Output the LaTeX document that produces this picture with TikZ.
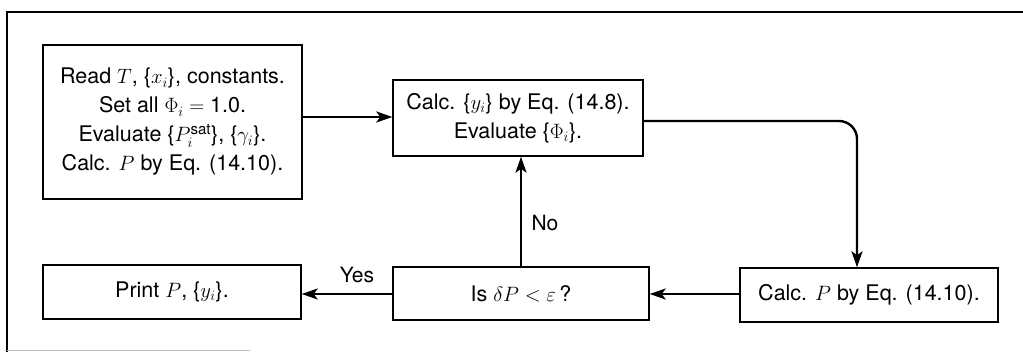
\documentclass[tikz,border=0pt]{standalone}
\usepackage{amsmath}
\usepackage{fontspec}
\setmainfont{TeX Gyre Heros}
\usetikzlibrary{arrows.meta}
\tikzset{
  box/.style={draw=black, line width=1.4pt, align=center, inner sep=0pt,
    font=\fontsize{21.5}{29}\selectfont},
  flow/.style={line width=2.4pt, -{Stealth[length=16pt,width=11pt,inset=4pt]}},
  lbl/.style={font=\fontsize{21}{24}\selectfont, inner sep=0pt}
}
\begin{document}
\begin{tikzpicture}[x=1pt,y=-1pt]
\useasboundingbox (0,0) rectangle (1023,352);
\draw[line width=1.5pt] (7,352) -- (7,12) -- (1023,12);
\draw[black!25, line width=1pt] (7,351) -- (250,351);
\node[box, minimum width=259pt, minimum height=154pt] (b1) at (172.5,122)
  {Read $T$, \{$x_i$\}, constants.\\ Set all $\Phi_i = {}$1.0.\\ Evaluate \{$P_i^{\text{sat}}$\}, \{$\gamma_i$\}.\\ Calc. $P$ by Eq. (14.10).};
\node[box, minimum width=250pt, minimum height=76pt] (b2) at (518,118)
  {Calc. \{$y_i$\} by Eq. (14.8).\\ Evaluate \{$\Phi_i$\}.};
\node[box, minimum width=258pt, minimum height=54pt] (b3) at (869,295)
  {Calc. $P$ by Eq. (14.10).};
\node[box, minimum width=256pt, minimum height=53pt] (b4) at (521,293.5)
  {Is $\delta P < \varepsilon$\,?};
\node[box, minimum width=258pt, minimum height=54pt] (b5) at (172,292)
  {Print $P$, \{$y_i$\}.};
\coordinate (c1) at (857,121);
\draw[flow] (b1.east |- 0,117) -- (b2.west |- 0,117);
\draw[flow, rounded corners=18pt] (b2.east |- c1) -- (c1) -- (b3.north -| c1);
\draw[flow] (b3.west |- 0,294) -- (b4.east |- 0,294);
\draw[flow] (b4.west |- 0,294) -- (b5.east |- 0,294);
\draw[flow] (b4.north) -- (b2.south -| b4.north);
\node[lbl] (no) at (545,223) {No};
\node[lbl] (yes) at (357,275) {Yes};
\end{tikzpicture}
\end{document}
